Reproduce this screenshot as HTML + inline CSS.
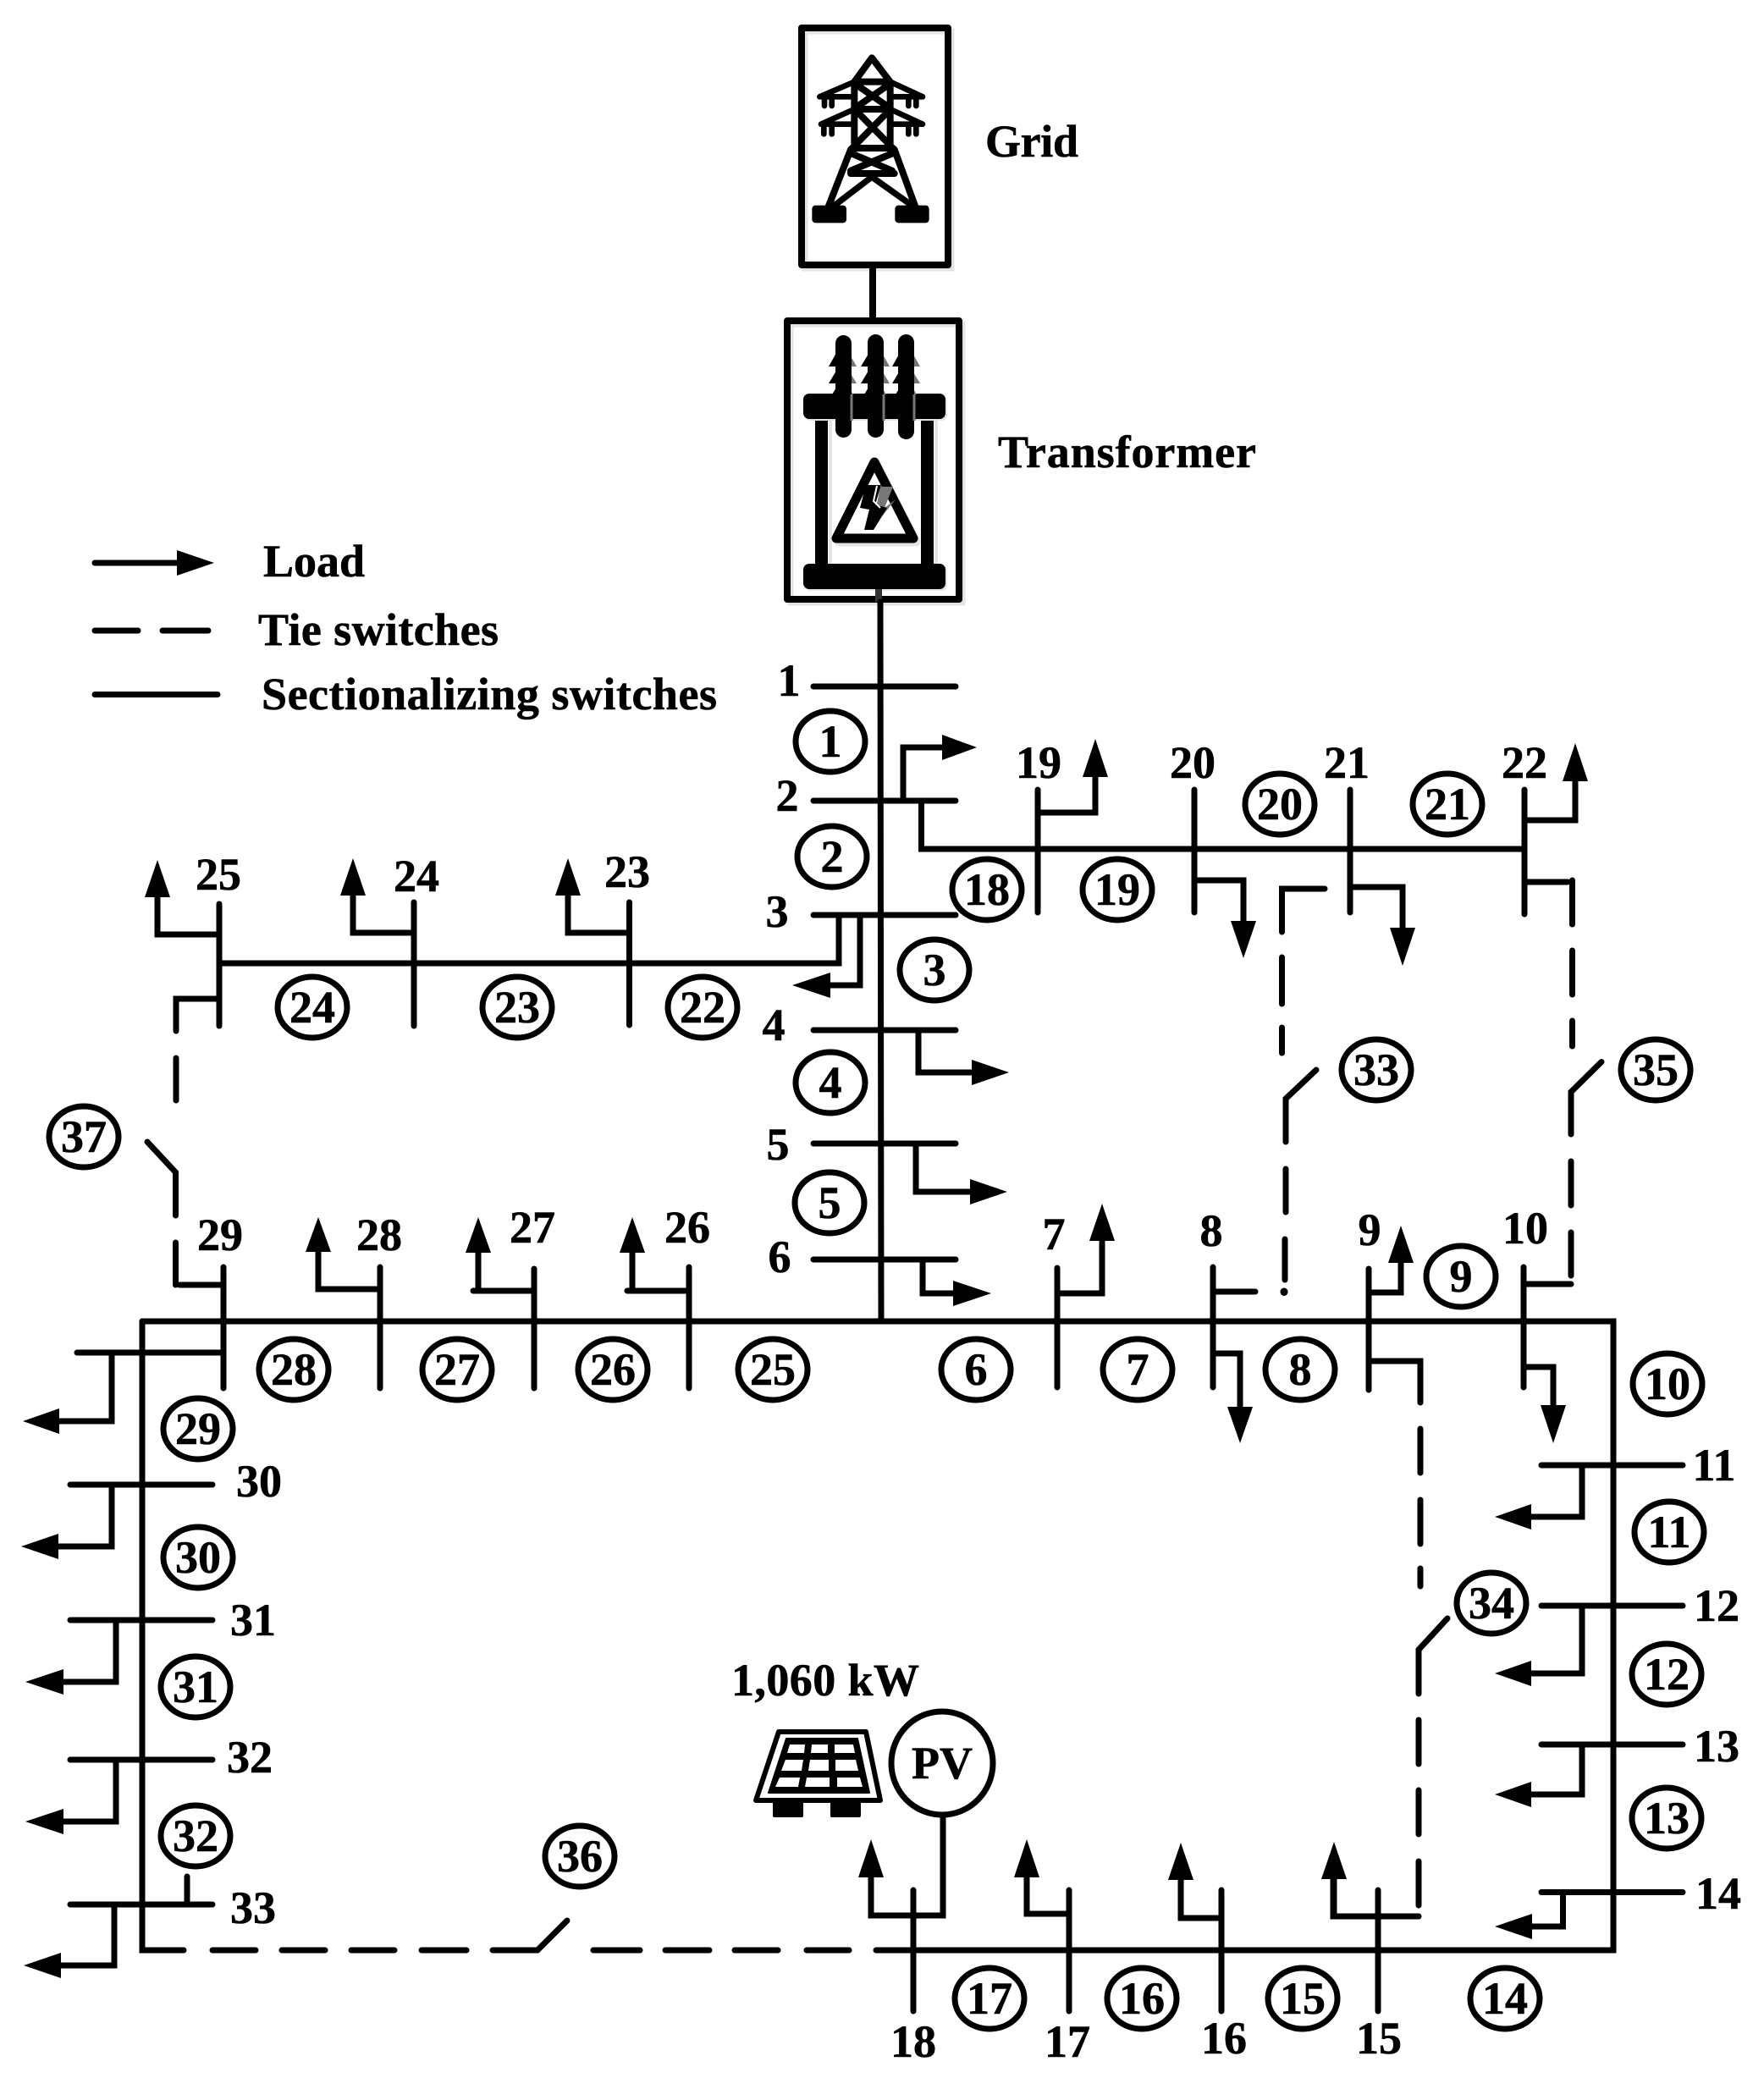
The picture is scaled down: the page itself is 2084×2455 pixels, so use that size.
<!DOCTYPE html>
<html><head><meta charset="utf-8"><title>Network diagram</title>
<style>
html,body{margin:0;padding:0;background:#fff}
svg{display:block}
text{font-family:"Liberation Serif",serif;font-weight:bold;font-size:54px;fill:#000;stroke:#000;stroke-width:.6}
.m{text-anchor:middle}
.l{fill:none;stroke:#000;stroke-width:7;stroke-linecap:round;stroke-linejoin:miter}
.c{fill:#fff;stroke:#000;stroke-width:7}
</style></head><body>
<svg width="2084" height="2455" viewBox="0 0 2084 2455" xmlns="http://www.w3.org/2000/svg">
<rect width="2084" height="2455" fill="#fff"/>

<!-- Grid box -->
<rect x="951" y="37" width="173" height="280" fill="none" stroke="#e4e4e4" stroke-width="7"/>
<rect x="947" y="33" width="173" height="280" fill="none" stroke="#000" stroke-width="8" stroke-linejoin="round"/>
<g transform="translate(950 55) scale(.33333)" fill="none" stroke="#000" stroke-width="24" stroke-linecap="round" stroke-linejoin="round">
<path d="M240 40L178 125M240 40L305 125M178 125H305M178 125V365M305 125V365"/>
<path d="M185 135L300 215M300 135L185 215M178 222H305M185 228L300 345M300 228L185 345M170 360H315"/>
<path d="M165 365L85 570M320 365L395 570M165 378L312 440M315 378L165 440M165 450H320"/>
<path d="M240 462L105 565M240 462L385 565" stroke-width="22"/>
<path d="M178 125L55 178H178M305 125L420 178H305M178 222L60 275H178M305 222L420 275H305" stroke-width="20"/>
<path d="M72 185V210M98 185V210M370 185V210M397 185V210M70 282V310M98 282V310M370 282V310M397 282V310" stroke-width="20"/>
<rect x="28" y="563" width="122" height="62" rx="12" fill="#000" stroke="none"/>
<rect x="322" y="563" width="121" height="62" rx="12" fill="#000" stroke="none"/>
</g>
<text x="1164" y="185" textLength="110" lengthAdjust="spacing">Grid</text>
<path d="M1031 313V375" stroke="#000" stroke-width="8" fill="none"/>

<!-- Transformer box -->
<rect x="934" y="383" width="203" height="329" fill="none" stroke="#e4e4e4" stroke-width="7"/>
<rect x="930" y="379" width="203" height="329" fill="none" stroke="#000" stroke-width="8" stroke-linejoin="round"/>
<rect x="979" y="495" width="4" height="172" fill="#e4e4e4"/>
<rect x="1104" y="495" width="4" height="172" fill="#e4e4e4"/>
<rect x="963" y="490" width="15" height="180"/>
<rect x="1088" y="490" width="15" height="180"/>
<rect x="951" y="467" width="168" height="30" rx="7" fill="#e4e4e4"/>
<rect x="951" y="668" width="168" height="30" rx="7" fill="#e4e4e4"/>
<rect x="949" y="465" width="168" height="30" rx="7"/>
<rect x="949" y="666" width="168" height="30" rx="7"/>
<g>
<path d="M998 408L1012 433H1000L1012 453H1000L1008 466H999ZM1037 408L1051 433H1039L1051 453H1039L1047 466H1038ZM1073 408L1087 433H1075L1087 453H1075L1083 466H1074Z" fill="#777"/>
<path d="M993 408L979 433H991L979 453H991L983 466H993ZM1032 408L1017 433H1029L1017 453H1029L1021 466H1032ZM1068 408L1054 433H1066L1054 453H1066L1058 466H1068Z"/>
<rect x="987" y="396" width="19" height="121" rx="9.5"/>
<rect x="1025" y="395" width="19" height="122" rx="9.5"/>
<rect x="1061" y="395" width="19" height="124" rx="9.5"/>
<path d="M1006 466V497M1044 466V497M1080 466V497" stroke="#777" stroke-width="3"/>
</g>
<path d="M1033 546L988 636H1079Z" fill="#fff" stroke="#e4e4e4" stroke-width="11" stroke-linejoin="round" transform="translate(3 4)"/>
<path d="M1033 546L988 636H1079Z" fill="#fff" stroke="#000" stroke-width="11" stroke-linejoin="round"/>
<path d="M1040 575H1055L1045 600L1058 590L1030 625Z" fill="#777"/>
<path d="M1023 573H1041L1034 596L1048 600L1032 626H1021L1027 602L1016 600Z"/>
<path d="M1036 574L1032 592L1040 600" stroke="#fff" stroke-width="2" fill="none"/>
<text x="1179" y="552" textLength="305" lengthAdjust="spacing">Transformer</text>
<path d="M1038 696V711" stroke="#333" stroke-width="8"/>

<!-- Legend -->
<g class="l">
<path d="M112 665H209M112 745H163M192 745H246M112 820.500H257"/>
</g>
<polygon points="209,650 253,665 209,680"/>
<text x="311" y="681">Load</text>
<text x="305" y="762" textLength="284" lengthAdjust="spacing">Tie switches</text>
<text x="309" y="838" textLength="538" lengthAdjust="spacing">Sectionalizing switches</text>

<!-- Network lines -->
<g class="l">
<!-- trunk and buses -->
<path d="M1040 711L1041 1561"/>
<path d="M961 811H1129M961 946H1129M961 1081H1129M961 1217H1129M961 1351H1129M961 1488H1129"/>
<path d="M1067 946V883H1113"/>
<path d="M1088.500 946V1003H1801"/>
<path d="M1226 933V1078M1226 960H1294V918"/>
<path d="M1411 933V1078M1411 1040H1469V1088"/>
<path d="M1595 933V1078M1595 1048H1657V1096"/>
<path d="M1801 933V1080M1801 969H1861V923"/>
<path d="M1801 1042H1852"/>
<path d="M1857.500 1040V1092M1857.500 1123V1175M1857.500 1206V1236M1892 1254.500L1856 1290V1340M1856 1372V1424M1856 1456V1507M1856 1517H1802"/>
<path d="M1565 1050H1514.500V1101M1514.500 1131V1186M1514.500 1214V1244M1555 1264L1519 1298V1349M1519 1381V1432M1518 1464V1512"/>
<path d="M1517 1526V1526.500" stroke-width="9"/>
<!-- bus 4-6 loads -->
<path d="M1085 1217V1267H1148M1082 1351V1408H1146M1090 1488V1528H1126"/>
<!-- 7-10 -->
<path d="M1249 1498V1639M1249 1528H1302V1466"/>
<path d="M1433 1497V1639M1433 1526H1483M1433 1599H1465V1662"/>
<path d="M1617 1499V1642M1617 1527H1655V1492M1617 1608H1678V1657M1678 1688V1740M1678 1772V1824M1678 1853V1874M1710 1912L1676 1949V2001M1676 2032V2084M1676 2115V2167M1676 2199V2251M1676 2264H1575V2220"/>
<path d="M1800 1497V1639M1800 1615H1835V1660"/>
<!-- main loop -->
<path d="M168 1561H1906V2304H1035"/>
<path d="M168 1561V2304H217M251 2304H302M333 2304H384M415 2304H466M498 2304H551M582 2304H635L670 2269M701 2304H756M786 2304H838M868 2304H919M953 2304H1003"/>
<!-- right buses -->
<path d="M1821 1731H1988M1869 1731V1792H1809"/>
<path d="M1821 1897H1988M1869 1897V1977H1809"/>
<path d="M1821 2061H1988M1869 2061V2120H1809"/>
<path d="M1821 2235.500H1988M1846.500 2235.500V2276H1810"/>
<!-- bottom nodes -->
<path d="M1079 2233V2376M1114 2147V2263H1029V2218"/>
<path d="M1263 2233V2376M1263 2261H1213V2218"/>
<path d="M1443 2233V2376M1443 2266H1395V2221"/>
<path d="M1628 2233V2376M1576 2264V2220"/>
<!-- left buses -->
<path d="M264 1497V1640M91 1598H264M132 1598V1679H70"/>
<path d="M83 1754H251M132 1754V1827H69"/>
<path d="M83 1914H251M137 1914V1987H75"/>
<path d="M83 2079H251M137 2079V2152H75"/>
<path d="M83 2250H251M221 2250V2217M135 2250V2322H72"/>
<!-- top row of left loop -->
<path d="M449 1497V1640M449 1523H376V1479"/>
<path d="M631 1499V1640M631 1525H559M565 1525V1480"/>
<path d="M814 1497V1640M814 1525H741M747 1525V1480"/>
<!-- tie 37 -->
<path d="M264 1518H212M207.500 1518V1468M207.500 1436V1385L174 1349M208 1300V1250M208 1218V1180H259"/>
<!-- feeder 22-25 -->
<path d="M259 1068V1212M259 1104H186V1060"/>
<path d="M489 1066V1212M489 1102H417V1058"/>
<path d="M743.500 1066V1211M743.500 1102H671V1058"/>
<path d="M259 1138H991V1081M1016 1081V1164H981"/>
</g>

<!-- Arrowheads -->
<g>
<polygon points="1113,868 1154,883 1113,898"/>
<polygon points="1279,918 1309,918 1294,873"/>
<polygon points="1454,1088 1484,1088 1469,1132"/>
<polygon points="1642,1096 1672,1096 1657,1141"/>
<polygon points="1846,923 1876,923 1861,878"/>
<polygon points="981,1149 981,1179 936,1164"/>
<polygon points="1148,1252 1192,1267 1148,1282"/>
<polygon points="1146,1393 1190,1408 1146,1423"/>
<polygon points="1126,1513 1171,1528 1126,1543"/>
<polygon points="1287,1466 1317,1466 1302,1422"/>
<polygon points="1450,1662 1480,1662 1465,1705"/>
<polygon points="1640,1492 1670,1492 1655,1448"/>
<polygon points="1820,1660 1850,1660 1835,1705"/>
<polygon points="1809,1777 1809,1807 1766,1792"/>
<polygon points="1809,1962 1809,1992 1766,1977"/>
<polygon points="1809,2105 1809,2135 1766,2120"/>
<polygon points="1810,2261 1810,2291 1766,2276"/>
<polygon points="1014,2218 1044,2218 1029,2173"/>
<polygon points="1198,2218 1228,2218 1213,2173"/>
<polygon points="1380,2221 1410,2221 1395,2177"/>
<polygon points="1561,2220 1591,2220 1576,2176"/>
<polygon points="70,1664 70,1694 27,1679"/>
<polygon points="69,1812 69,1842 25,1827"/>
<polygon points="75,1972 75,2002 30,1987"/>
<polygon points="75,2137 75,2167 30,2152"/>
<polygon points="72,2307 72,2337 28,2322"/>
<polygon points="361,1479 391,1479 376,1438"/>
<polygon points="550,1480 580,1480 565,1438"/>
<polygon points="732,1480 762,1480 747,1438"/>
<polygon points="171,1060 201,1060 186,1016"/>
<polygon points="402,1058 432,1058 417,1014"/>
<polygon points="656,1058 686,1058 671,1014"/>
</g>

<!-- Numbered circles -->
<g class="c">
<ellipse cx="981" cy="876" rx="41" ry="36"/><ellipse cx="983" cy="1012" rx="41" ry="36"/><ellipse cx="1104" cy="1146" rx="41" ry="36"/>
<ellipse cx="981" cy="1279" rx="41" ry="36"/><ellipse cx="980" cy="1421" rx="41" ry="36"/><ellipse cx="1153" cy="1618" rx="41" ry="36"/>
<ellipse cx="1344" cy="1618" rx="41" ry="36"/><ellipse cx="1536" cy="1618" rx="41" ry="36"/><ellipse cx="1726" cy="1508" rx="41" ry="36"/>
<ellipse cx="1970" cy="1635" rx="41" ry="36"/><ellipse cx="1972" cy="1810" rx="41" ry="36"/><ellipse cx="1969" cy="1978" rx="41" ry="36"/>
<ellipse cx="1969" cy="2148" rx="41" ry="36"/><ellipse cx="1778" cy="2361" rx="41" ry="36"/><ellipse cx="1539" cy="2361" rx="41" ry="36"/>
<ellipse cx="1349" cy="2361" rx="41" ry="36"/><ellipse cx="1169" cy="2361" rx="41" ry="36"/><ellipse cx="1166" cy="1051" rx="41" ry="36"/>
<ellipse cx="1320" cy="1051" rx="41" ry="36"/><ellipse cx="1512" cy="950" rx="41" ry="36"/><ellipse cx="1710" cy="950" rx="41" ry="36"/>
<ellipse cx="830" cy="1190" rx="41" ry="36"/><ellipse cx="611" cy="1190" rx="41" ry="36"/><ellipse cx="369" cy="1190" rx="41" ry="36"/>
<ellipse cx="913" cy="1618" rx="41" ry="36"/><ellipse cx="724" cy="1618" rx="41" ry="36"/><ellipse cx="540" cy="1618" rx="41" ry="36"/>
<ellipse cx="347" cy="1618" rx="41" ry="36"/><ellipse cx="234" cy="1688" rx="41" ry="36"/><ellipse cx="234" cy="1840" rx="41" ry="36"/>
<ellipse cx="231" cy="1993" rx="41" ry="36"/><ellipse cx="231" cy="2169" rx="41" ry="36"/><ellipse cx="1626" cy="1264" rx="41" ry="36"/>
<ellipse cx="1762" cy="1894" rx="41" ry="36"/><ellipse cx="1956" cy="1264" rx="41" ry="36"/><ellipse cx="685" cy="2193" rx="41" ry="36"/>
<ellipse cx="99" cy="1343" rx="41" ry="36"/>
</g>
<g>
<text class="m" x="981" y="894">1</text><text class="m" x="983" y="1030">2</text><text class="m" x="1104" y="1164">3</text>
<text class="m" x="981" y="1297">4</text><text class="m" x="980" y="1439">5</text><text class="m" x="1153" y="1636">6</text>
<text class="m" x="1344" y="1636">7</text><text class="m" x="1536" y="1636">8</text><text class="m" x="1726" y="1526">9</text>
<text class="m" x="1970" y="1653">10</text><text class="m" x="1972" y="1828">11</text><text class="m" x="1969" y="1996">12</text>
<text class="m" x="1969" y="2166">13</text><text class="m" x="1778" y="2379">14</text><text class="m" x="1539" y="2379">15</text>
<text class="m" x="1349" y="2379">16</text><text class="m" x="1169" y="2379">17</text><text class="m" x="1166" y="1069">18</text>
<text class="m" x="1320" y="1069">19</text><text class="m" x="1512" y="968">20</text><text class="m" x="1710" y="968">21</text>
<text class="m" x="830" y="1208">22</text><text class="m" x="611" y="1208">23</text><text class="m" x="369" y="1208">24</text>
<text class="m" x="913" y="1636">25</text><text class="m" x="724" y="1636">26</text><text class="m" x="540" y="1636">27</text>
<text class="m" x="347" y="1636">28</text><text class="m" x="234" y="1706">29</text><text class="m" x="234" y="1858">30</text>
<text class="m" x="231" y="2011">31</text><text class="m" x="231" y="2187">32</text><text class="m" x="1626" y="1282">33</text>
<text class="m" x="1762" y="1912">34</text><text class="m" x="1956" y="1282">35</text><text class="m" x="685" y="2211">36</text>
<text class="m" x="99" y="1361">37</text>
</g>

<!-- Bus labels -->
<g>
<text class="m" x="932" y="822">1</text><text class="m" x="930" y="958">2</text><text class="m" x="918" y="1095">3</text>
<text class="m" x="914" y="1229">4</text><text class="m" x="919" y="1370">5</text><text class="m" x="921" y="1503">6</text>
<text class="m" x="1245" y="1476">7</text><text class="m" x="1431" y="1472">8</text><text class="m" x="1618" y="1471">9</text>
<text class="m" x="1802" y="1469">10</text><text class="m" x="2025" y="1749">11</text><text class="m" x="2028" y="1915">12</text>
<text class="m" x="2028" y="2081">13</text><text class="m" x="2030" y="2255">14</text><text class="m" x="1629" y="2426">15</text>
<text class="m" x="1446" y="2426">16</text><text class="m" x="1261" y="2430">17</text><text class="m" x="1079" y="2430">18</text>
<text class="m" x="1227" y="919">19</text><text class="m" x="1409" y="919">20</text><text class="m" x="1591" y="919">21</text>
<text class="m" x="1801" y="919">22</text><text class="m" x="741" y="1048">23</text><text class="m" x="492" y="1053">24</text>
<text class="m" x="258" y="1051">25</text><text class="m" x="812" y="1468">26</text><text class="m" x="629" y="1468">27</text>
<text class="m" x="448" y="1477">28</text><text class="m" x="260" y="1477">29</text><text class="m" x="306" y="1768">30</text>
<text class="m" x="299" y="1932">31</text><text class="m" x="295" y="2094">32</text><text class="m" x="299" y="2272">33</text>
</g>

<!-- PV -->
<ellipse cx="1113" cy="2083" rx="60" ry="61" fill="#fff" stroke="#000" stroke-width="7"/>
<text class="m" x="1113" y="2101">PV</text>
<text x="864" y="2003" textLength="222" lengthAdjust="spacing">1,060 kW</text>
<path d="M920 2046H1023L1040 2127H893Z" fill="#fff" stroke="#000" stroke-width="6" stroke-linejoin="round"/>
<path d="M929 2054H1013L1027 2118H908Z" fill="#000" stroke="#000" stroke-width="2" stroke-linejoin="round"/>
<g fill="#fff">
<polygon points="933,2061 951,2061 950,2071 930,2071"/>
<polygon points="959,2061 978,2061 978,2071 958,2071"/>
<polygon points="986,2061 1008,2061 1010,2071 986,2071"/>
<polygon points="928,2079 949,2079 947,2092 923,2092"/>
<polygon points="957,2079 979,2079 979,2092 955,2092"/>
<polygon points="987,2079 1011,2079 1014,2092 987,2092"/>
<polygon points="921,2100 945,2100 943,2111 916,2111"/>
<polygon points="953,2100 980,2100 980,2111 951,2111"/>
<polygon points="989,2100 1016,2100 1019,2111 989,2111"/>
</g>
<rect x="913" y="2128" width="36" height="19" rx="2"/>
<rect x="981" y="2128" width="36" height="19" rx="2"/>
</svg>
</body></html>
